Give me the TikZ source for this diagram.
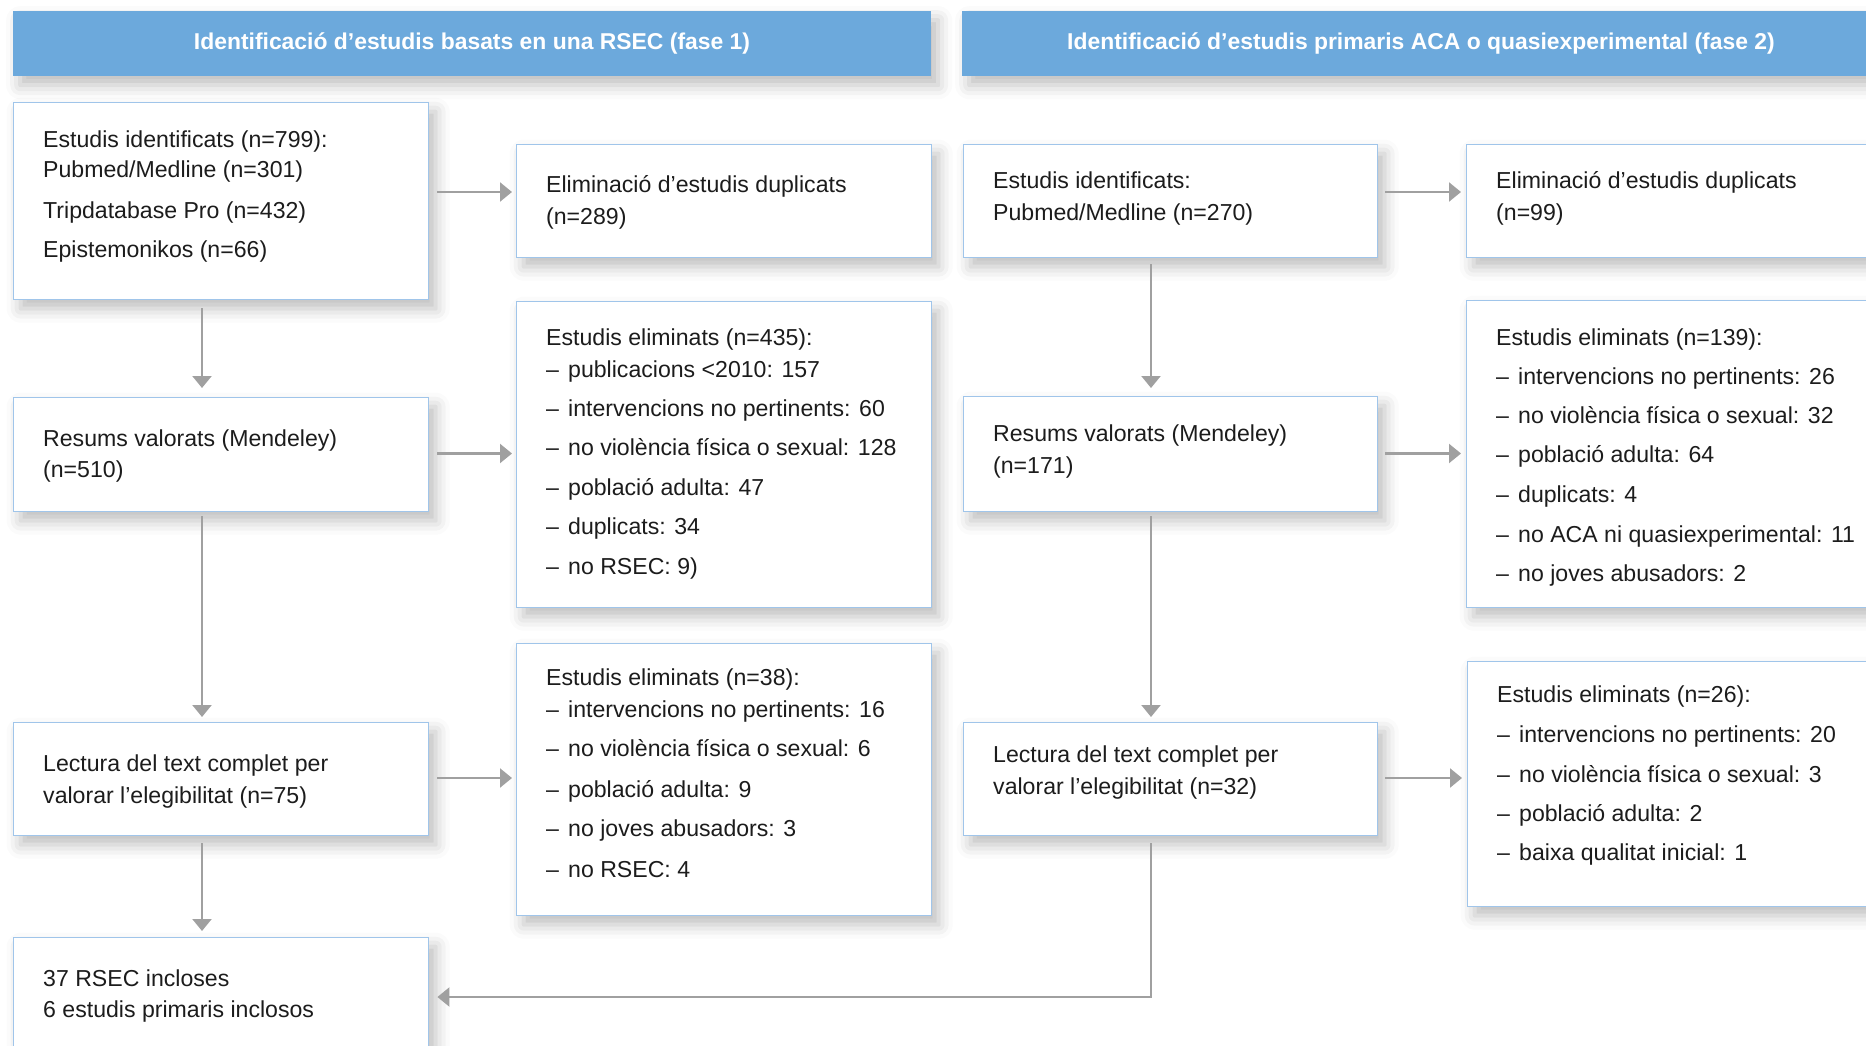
\documentclass[tikz,border=0pt]{standalone}
\usepackage{fontspec}
\setmainfont{Liberation Sans}
\usetikzlibrary{shadows.blur,arrows.meta}
\definecolor{hdr}{RGB}{108,169,220}
\definecolor{bord}{RGB}{160,197,234}
\definecolor{arr}{RGB}{160,160,160}
\definecolor{ink}{RGB}{28,28,28}
\newcommand{\itm}[1]{\makebox[22pt][l]{–}#1}
\begin{document}
\begin{tikzpicture}[x=1pt,y=-1pt,
  softshadow/.style={blur shadow={shadow xshift=7pt,shadow yshift=-9pt,shadow blur radius=14pt,shadow opacity=26}},
  box/.style={draw=bord,line width=1.4pt,fill=white,anchor=north west,inner sep=0pt,softshadow},
  hbar/.style={fill=hdr,anchor=north west,inner sep=0pt,softshadow},
  htxt/.style={text=white,font=\fontsize{22.9}{27}\selectfont\bfseries,inner sep=0pt},
  txt/.style={anchor=base west,inner sep=0pt,text=ink,font=\fontsize{23.1}{27}\selectfont},
  conn/.style={draw=arr,line width=2.2pt,-{Triangle[length=12pt,width=19pt]}}
]
\useasboundingbox (0,0) rectangle (1866,1046);
\begin{scope}
\clip (0,0) rectangle (1866,1046);
% headers
\node[hbar,minimum width=918pt,minimum height=65pt] (h1) at (13,11) {};
\node[hbar,minimum width=930pt,minimum height=65pt] (h2) at (962,11) {};
\node[htxt] (h1t) at (472,43.5) {Identificació d’estudis basats en una RSEC (fase 1)};
\node[htxt] (h2t) at (1421,43.5) {Identificació d’estudis primaris ACA o quasiexperimental (fase 2)};
% left boxes
\node[box,minimum width=415pt,minimum height=197pt] (b1) at (13,102) {};
\node[box,minimum width=415pt,minimum height=113pt] (b2) at (516,144) {};
\node[box,minimum width=415pt,minimum height=306pt] (b3) at (516,301) {};
\node[box,minimum width=415pt,minimum height=114pt] (b4) at (13,397) {};
\node[box,minimum width=415pt,minimum height=113pt] (b5) at (13,722) {};
\node[box,minimum width=415pt,minimum height=272pt] (b6) at (516,643) {};
\node[box,minimum width=415pt,minimum height=160pt] (b7) at (13,937) {};
% right boxes
\node[box,minimum width=414pt,minimum height=113pt] (c1) at (963,144) {};
\node[box,minimum width=440pt,minimum height=113pt] (c2) at (1466,144) {};
\node[box,minimum width=440pt,minimum height=307pt] (c3) at (1466,300) {};
\node[box,minimum width=414pt,minimum height=115pt] (c4) at (963,396) {};
\node[box,minimum width=414pt,minimum height=113pt] (c5) at (963,722) {};
\node[box,minimum width=440pt,minimum height=245pt] (c6) at (1467,661) {};
% connector helpers
\coordinate (lx) at (202,0);
\coordinate (rx) at (1151,0);
\coordinate (r1) at (0,192);
\coordinate (r2) at (0,453.5);
\coordinate (r3) at (0,778);
\coordinate (r4) at (0,997);
% horizontal arrows
\draw[conn,shorten <=8pt,shorten >=4pt] (b1.east |- r1) -- (b2.west |- r1);
\draw[conn,shorten <=8pt,shorten >=4pt] (b4.east |- r2) -- (b3.west |- r2);
\draw[conn,shorten <=8pt,shorten >=4pt] (b5.east |- r3) -- (b6.west |- r3);
\draw[conn,shorten <=7pt,shorten >=5pt] (c1.east |- r1) -- (c2.west |- r1);
\draw[conn,shorten <=7pt,shorten >=5pt] (c4.east |- r2) -- (c3.west |- r2);
\draw[conn,shorten <=7pt,shorten >=5pt] (c5.east |- r3) -- (c6.west |- r3);
% vertical arrows
\draw[conn,shorten <=8pt,shorten >=9pt] (b1.south -| lx) -- (b4.north -| lx);
\draw[conn,shorten <=4pt,shorten >=5pt] (b4.south -| lx) -- (b5.north -| lx);
\draw[conn,shorten <=7pt,shorten >=6pt] (b5.south -| lx) -- (b7.north -| lx);
\draw[conn,shorten <=6pt,shorten >=8pt] (c1.south -| rx) -- (c4.north -| rx);
\draw[conn,shorten <=4pt,shorten >=5pt] (c4.south -| rx) -- (c5.north -| rx);
\draw[conn,shorten <=7pt,shorten >=8pt] (c5.south -| rx) |- (b7.east |- r4);
% texts left
\node[txt] (b1a) at (43,147) {Estudis identificats (n=799):};
\node[txt] (b1b) at (43,178) {Pubmed/Medline (n=301)};
\node[txt] (b1c) at (43,218) {Tripdatabase Pro (n=432)};
\node[txt] (b1d) at (43,257) {Epistemonikos (n=66)};
\node[txt] (b2a) at (546,192) {Eliminació d’estudis duplicats};
\node[txt] (b2b) at (546,224) {(n=289)};
\node[txt] (b3a) at (546,345) {Estudis eliminats (n=435):};
\node[txt] (b3b) at (546,377) {\itm{publicacions <2010: 157}};
\node[txt] (b3c) at (546,416) {\itm{intervencions no pertinents: 60}};
\node[txt] (b3d) at (546,455) {\itm{no violència física o sexual: 128}};
\node[txt] (b3e) at (546,495) {\itm{població adulta: 47}};
\node[txt] (b3f) at (546,534) {\itm{duplicats: 34}};
\node[txt] (b3g) at (546,574) {\itm{no RSEC: 9)}};
\node[txt] (b4a) at (43,446) {Resums valorats (Mendeley)};
\node[txt] (b4b) at (43,477) {(n=510)};
\node[txt] (b5a) at (43,771) {Lectura del text complet per};
\node[txt] (b5b) at (43,803) {valorar l’elegibilitat (n=75)};
\node[txt] (b6a) at (546,685) {Estudis eliminats (n=38):};
\node[txt] (b6b) at (546,717) {\itm{intervencions no pertinents: 16}};
\node[txt] (b6c) at (546,756) {\itm{no violència física o sexual: 6}};
\node[txt] (b6d) at (546,797) {\itm{població adulta: 9}};
\node[txt] (b6e) at (546,836) {\itm{no joves abusadors: 3}};
\node[txt] (b6f) at (546,877) {\itm{no RSEC: 4}};
\node[txt] (b7a) at (43,986) {37 RSEC incloses};
\node[txt] (b7b) at (43,1017) {6 estudis primaris inclosos};
% texts right
\node[txt] (c1a) at (993,189) {Estudis identificats:};
\node[txt] (c1b) at (993,220) {Pubmed/Medline (n=270)};
\node[txt] (c2a) at (1496,188) {Eliminació d’estudis duplicats};
\node[txt] (c2b) at (1496,220) {(n=99)};
\node[txt] (c3a) at (1496,345) {Estudis eliminats (n=139):};
\node[txt] (c3b) at (1496,384) {\itm{intervencions no pertinents: 26}};
\node[txt] (c3c) at (1496,423) {\itm{no violència física o sexual: 32}};
\node[txt] (c3d) at (1496,462) {\itm{població adulta: 64}};
\node[txt] (c3e) at (1496,502) {\itm{duplicats: 4}};
\node[txt] (c3f) at (1496,542) {\itm{no ACA ni quasiexperimental: 11}};
\node[txt] (c3g) at (1496,581) {\itm{no joves abusadors: 2}};
\node[txt] (c4a) at (993,441) {Resums valorats (Mendeley)};
\node[txt] (c4b) at (993,473) {(n=171)};
\node[txt] (c5a) at (993,762) {Lectura del text complet per};
\node[txt] (c5b) at (993,794) {valorar l’elegibilitat (n=32)};
\node[txt] (c6a) at (1497,702) {Estudis eliminats (n=26):};
\node[txt] (c6b) at (1497,742) {\itm{intervencions no pertinents: 20}};
\node[txt] (c6c) at (1497,782) {\itm{no violència física o sexual: 3}};
\node[txt] (c6d) at (1497,821) {\itm{població adulta: 2}};
\node[txt] (c6e) at (1497,860) {\itm{baixa qualitat inicial: 1}};
\end{scope}
\end{tikzpicture}
\end{document}
